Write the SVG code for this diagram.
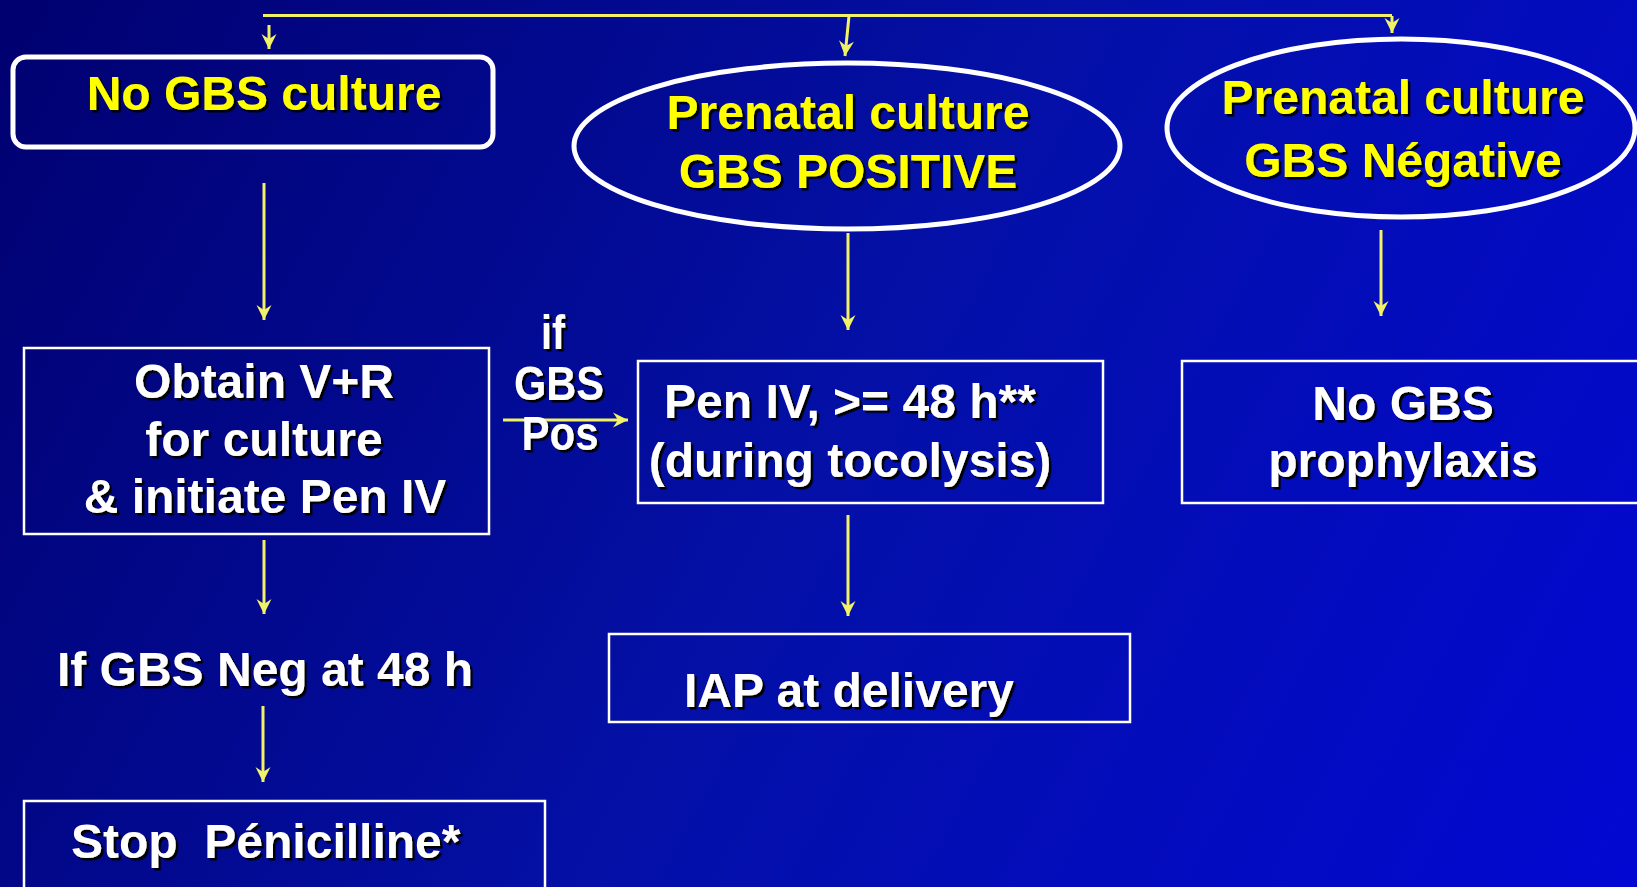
<svg xmlns="http://www.w3.org/2000/svg" width="1637" height="887" viewBox="0 0 1637 887">
<defs>
<linearGradient id="bg" x1="0" y1="0" x2="1637" y2="887" gradientUnits="userSpaceOnUse">
<stop offset="0" stop-color="#00006F"/>
<stop offset="0.5" stop-color="#0410A6"/>
<stop offset="1" stop-color="#0208D2"/>
</linearGradient>
<filter id="sh" x="-10%" y="-30%" width="120%" height="160%">
<feDropShadow dx="2.5" dy="2.5" stdDeviation="0.4" flood-color="#000000" flood-opacity="1"/>
</filter>
<marker id="ah" viewBox="-16 -8 17 16" refX="0" refY="0" markerWidth="17" markerHeight="16" markerUnits="userSpaceOnUse" orient="auto">
<path d="M0,0 L-15,-7.5 L-10,0 L-15,7.5 Z" fill="#F2F266"/>
</marker>
</defs>
<style>
.t{font-family:"Liberation Sans",Arial,sans-serif;font-weight:bold;font-size:48px;text-anchor:middle;filter:url(#sh)}
.y{fill:#FFFF00}
.w{fill:#FFFFFF}
.box{fill:none;stroke:#FFFFFF;stroke-width:2.5}
.ell{fill:none;stroke:#FFFFFF;stroke-width:5}
.c{fill:none;stroke:#F2F266;stroke-width:3}
</style>
<rect x="0" y="0" width="1637" height="887" fill="url(#bg)"/>

<g id="connectors">
<line class="c" x1="263" y1="15.5" x2="1392" y2="15.5" stroke-width="4"/>
<line class="c" x1="269" y1="25" x2="269" y2="49" marker-end="url(#ah)"/>
<line class="c" x1="849" y1="16" x2="845" y2="56" marker-end="url(#ah)"/>
<line class="c" x1="1392" y1="16" x2="1392" y2="33" marker-end="url(#ah)"/>
<line class="c" x1="264" y1="183" x2="264" y2="320" marker-end="url(#ah)"/>
<line class="c" x1="848" y1="233" x2="848" y2="330" marker-end="url(#ah)"/>
<line class="c" x1="1381" y1="230" x2="1381" y2="316" marker-end="url(#ah)"/>
<line class="c" x1="503" y1="420" x2="628" y2="420" stroke-width="4" marker-end="url(#ah)"/>
<line class="c" x1="264" y1="540" x2="264" y2="614" marker-end="url(#ah)"/>
<line class="c" x1="848" y1="515" x2="848" y2="616" marker-end="url(#ah)"/>
<line class="c" x1="263" y1="706" x2="263" y2="782" marker-end="url(#ah)"/>
</g>

<g id="no-gbs-culture">
<rect x="13" y="57" width="480" height="90" rx="13" ry="13" fill="none" stroke="#FFFFFF" stroke-width="5"/>
<text class="t y" x="264" y="110">No GBS culture</text>
</g>

<g id="prenatal-positive">
<ellipse class="ell" cx="847" cy="146" rx="273" ry="83"/>
<text class="t y" x="848" y="129">Prenatal culture</text>
<text class="t y" x="848" y="188">GBS POSITIVE</text>
</g>

<g id="prenatal-negative">
<ellipse class="ell" cx="1401" cy="128" rx="234" ry="89"/>
<text class="t y" x="1403" y="114">Prenatal culture</text>
<text class="t y" x="1403" y="177">GBS Négative</text>
</g>

<g id="obtain">
<rect class="box" x="24" y="348" width="465" height="186"/>
<text class="t w" x="264" y="398">Obtain V+R</text>
<text class="t w" x="264" y="456">for culture</text>
<text class="t w" x="265" y="513">&amp; initiate Pen IV</text>
</g>

<g id="if-gbs-pos">
<text class="t w" x="553" y="349" font-size="45" textLength="24" lengthAdjust="spacingAndGlyphs">if</text>
<text class="t w" x="559" y="400" font-size="45" textLength="90" lengthAdjust="spacingAndGlyphs">GBS</text>
<text class="t w" x="560" y="450" font-size="45" textLength="77" lengthAdjust="spacingAndGlyphs">Pos</text>
</g>

<g id="pen-iv">
<rect class="box" x="638" y="361" width="465" height="142"/>
<text class="t w" x="850" y="418">Pen IV, &gt;= 48 h**</text>
<text class="t w" x="850" y="477">(during tocolysis)</text>
</g>

<g id="no-prophylaxis">
<rect class="box" x="1182" y="361" width="470" height="142"/>
<text class="t w" x="1403" y="420">No GBS</text>
<text class="t w" x="1403" y="477">prophylaxis</text>
</g>

<g id="iap">
<rect class="box" x="609" y="634" width="521" height="88"/>
<text class="t w" x="849" y="707">IAP at delivery</text>
</g>

<g id="if-neg">
<text class="t w" x="265" y="686">If GBS Neg at 48 h</text>
</g>

<g id="stop">
<rect class="box" x="24" y="801" width="521" height="100"/>
<text class="t w" x="71" y="858" style="text-anchor:start;white-space:pre" xml:space="preserve">Stop  Pénicilline*</text>
</g>
</svg>
